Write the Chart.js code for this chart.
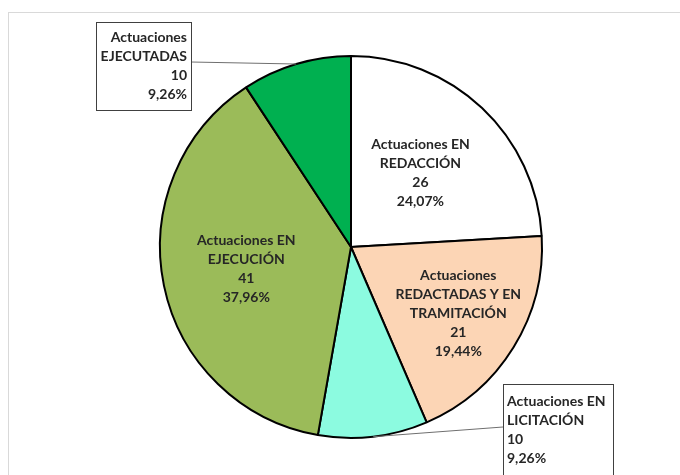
<!DOCTYPE html>
<html lang="es">
<head>
<meta charset="utf-8">
<script src="https://cdn.jsdelivr.net/npm/chart.js@4.4.1/dist/chart.umd.min.js"></script>
<style>
  body { margin: 0; background: #fff; overflow: hidden; }
  #contenedor { position: relative; width: 680px; height: 475px; }
  #marco { position: absolute; left: 8px; top: 12px; width: 700px; height: 500px;
           border-top: 1px solid #d9d9d9; border-left: 1px solid #d9d9d9; }
  canvas { position: absolute; left: 0; top: 0; }
</style>
</head>
<body>
<div id="contenedor">
  <div id="marco"></div>
  <canvas id="chartActuaciones" width="680" height="475"></canvas>
</div>
<script>
// Datos del gráfico
const categorias = [
  ['Actuaciones EN', 'REDACCIÓN'],
  ['Actuaciones', 'REDACTADAS Y EN', 'TRAMITACIÓN'],
  ['Actuaciones EN', 'LICITACIÓN'],
  ['Actuaciones EN', 'EJECUCIÓN'],
  ['Actuaciones', 'EJECUTADAS']
];
const valores = [26, 21, 10, 41, 10];
const colores = ['#ffffff', '#fcd5b5', '#8cfbe0', '#9bbb59', '#00b050'];

// Colocación de cada etiqueta: dentro del sector (factor de radio) o en caja con línea guía
const colocacion = [
  { tipo: 'dentro', factor: 0.53 },
  { tipo: 'dentro', factor: 0.66 },
  { tipo: 'caja', x: 503, y: 384, w: 110, h: 92, alinear: 'left', anclaY: 427, lado: 'izq' },
  { tipo: 'dentro', factor: 0.56 },
  { tipo: 'caja', x: 96, y: 22, w: 95, h: 88, alinear: 'right', anclaY: 62, lado: 'der' }
];

const total = valores.reduce((a, b) => a + b, 0);
const FUENTE = 'bold 14px Lato, "Open Sans", sans-serif';
const INTERLINEA = 19;

function lineasEtiqueta(i) {
  const pct = (valores[i] / total * 100).toFixed(2).replace('.', ',') + '%';
  return categorias[i].concat([String(valores[i]), pct]);
}

const pluginEtiquetas = {
  id: 'etiquetas',
  afterDatasetsDraw(chart) {
    const ctx = chart.ctx;
    const arcos = chart.getDatasetMeta(0).data;
    ctx.save();
    ctx.font = FUENTE;
    ctx.fillStyle = '#262626';
    ctx.textBaseline = 'middle';

    arcos.forEach(function(arco, i) {
      const p = arco.getProps(['x', 'y', 'startAngle', 'endAngle', 'outerRadius']);
      const medio = (p.startAngle + p.endAngle) / 2;
      const lineas = lineasEtiqueta(i);
      const conf = colocacion[i];

      if (conf.tipo === 'dentro') {
        const cx = p.x + Math.cos(medio) * p.outerRadius * conf.factor;
        const cy = p.y + Math.sin(medio) * p.outerRadius * conf.factor;
        ctx.textAlign = 'center';
        const y0 = cy - (lineas.length - 1) * INTERLINEA / 2;
        lineas.forEach(function(t, k) {
          ctx.fillText(t, cx, y0 + k * INTERLINEA);
        });
      } else {
        // Línea guía desde el borde del sector hasta la caja
        const ex = p.x + Math.cos(medio) * p.outerRadius;
        const ey = p.y + Math.sin(medio) * p.outerRadius;
        const bx = conf.lado === 'izq' ? conf.x : conf.x + conf.w;
        ctx.strokeStyle = '#6f6f6f';
        ctx.lineWidth = 1;
        ctx.beginPath();
        ctx.moveTo(ex, ey);
        ctx.lineTo(bx, conf.anclaY);
        ctx.stroke();

        // Caja
        ctx.fillStyle = '#ffffff';
        ctx.fillRect(conf.x, conf.y, conf.w, conf.h);
        ctx.strokeStyle = '#404040';
        ctx.strokeRect(conf.x + 0.5, conf.y + 0.5, conf.w, conf.h);

        ctx.fillStyle = '#262626';
        ctx.textAlign = conf.alinear;
        const tx = conf.alinear === 'left' ? conf.x + 4 : conf.x + conf.w - 4;
        const y0 = conf.y + conf.h / 2 - (lineas.length - 1) * INTERLINEA / 2;
        lineas.forEach(function(t, k) {
          ctx.fillText(t, tx, y0 + k * INTERLINEA);
        });
      }
    });
    ctx.restore();
  }
};

new Chart(document.getElementById('chartActuaciones').getContext('2d'), {
  type: 'pie',
  data: {
    labels: categorias.map(c => c.join(' ')),
    datasets: [{
      data: valores,
      backgroundColor: colores,
      borderColor: '#000000',
      borderWidth: 2
    }]
  },
  options: {
    responsive: false,
    animation: false,
    layout: {
      padding: { left: 159, right: 137, top: 55, bottom: 36 }
    },
    plugins: {
      legend: { display: false },
      tooltip: { enabled: false }
    }
  },
  plugins: [pluginEtiquetas]
});
</script>
</body>
</html>
